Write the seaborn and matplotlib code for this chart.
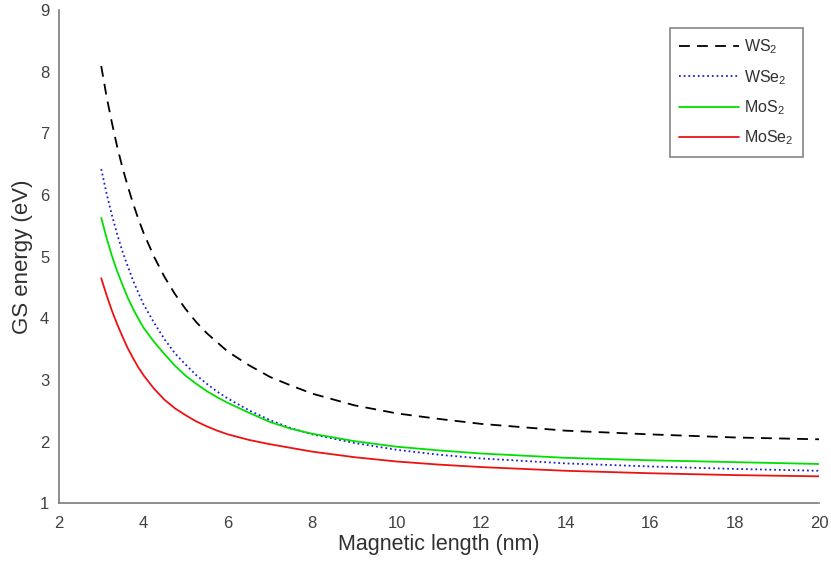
import pandas as pd
import matplotlib.pyplot as plt
import seaborn as sns

# magnetic length (nm) sample points
mag_len = [3, 3.125, 3.25, 3.375, 3.5, 3.625, 3.75, 3.875, 4, 4.25, 4.5, 4.75, 5, 5.25,
           5.5, 5.75, 6, 6.5, 7, 7.5, 8, 9, 10, 11, 12, 14, 16, 18, 20]

# ground-state energies (eV)
ws2 = [8.09, 7.60, 7.18, 6.79, 6.45, 6.15, 5.87, 5.62, 5.39, 5.00, 4.67, 4.39, 4.15, 3.94,
       3.76, 3.61, 3.46, 3.24, 3.05, 2.91, 2.78, 2.59, 2.46, 2.37, 2.29, 2.18, 2.12, 2.07, 2.04]
wse2 = [6.42, 6.03, 5.68, 5.37, 5.09, 4.85, 4.62, 4.42, 4.23, 3.93, 3.66, 3.43, 3.25, 3.08,
        2.94, 2.81, 2.70, 2.51, 2.35, 2.22, 2.12, 1.98, 1.87, 1.79, 1.73, 1.65, 1.60, 1.56, 1.53]
mos2 = [5.63, 5.31, 5.02, 4.77, 4.55, 4.34, 4.16, 4.00, 3.85, 3.62, 3.42, 3.23, 3.07, 2.94,
        2.82, 2.72, 2.63, 2.47, 2.32, 2.21, 2.13, 2.01, 1.92, 1.86, 1.81, 1.74, 1.70, 1.67, 1.64]
mose2 = [4.65, 4.38, 4.13, 3.91, 3.71, 3.52, 3.36, 3.21, 3.08, 2.86, 2.68, 2.54, 2.43, 2.33,
         2.25, 2.18, 2.12, 2.03, 1.96, 1.90, 1.84, 1.75, 1.68, 1.63, 1.59, 1.53, 1.49, 1.46, 1.44]

labels = ["WS$_2$", "WSe$_2$", "MoS$_2$", "MoSe$_2$"]
colors = ["black", "#1f1fd0", "#00e000", "#ee1111"]
styles = [(0, (6, 4)), (0, (1, 1.6)), "-", "-"]

sns.set_style("white")
plt.rcParams['font.family'] = ['Liberation Sans', 'DejaVu Sans']
plt.rcParams['mathtext.default'] = 'regular'

fig = plt.figure(figsize=(8.31, 5.70), dpi=100)
ax = fig.add_axes([0.071, 0.1167, 0.9146, 0.866])

for vals, lab, col, ls in zip([ws2, wse2, mos2, mose2], labels, colors, styles):
    df = pd.DataFrame({"x": mag_len, "y": vals})
    sns.lineplot(data=df, x="x", y="y", ax=ax, color=col, linestyle=ls,
                 linewidth=1.3, label=lab)

ax.set_xlim(2, 20)
ax.set_ylim(1, 9)
ax.set_xticks(range(2, 21, 2))
ax.set_yticks(range(1, 10))

axis_gray = "#7a7a7a"
for side in ["top", "right"]:
    ax.spines[side].set_visible(False)
for side in ["left", "bottom"]:
    ax.spines[side].set_color(axis_gray)
    ax.spines[side].set_linewidth(1.2)
ax.tick_params(direction="in", length=5, width=0.9, color="#333333",
               labelcolor="#404040", labelsize=12)
ax.tick_params(axis="x", pad=9)
ax.tick_params(axis="y", pad=7)

ax.set_xlabel("Magnetic length (nm)", fontsize=15.5, color="#303030", labelpad=2)
ax.set_ylabel("GS energy (eV)", fontsize=16, color="#303030", labelpad=5)

leg = ax.legend(loc="upper right", bbox_to_anchor=(0.979, 0.963), borderaxespad=0,
                fontsize=11.5, frameon=True, fancybox=False, handlelength=3.75,
                handletextpad=0.3, borderpad=0.6, labelspacing=0.72)
leg.get_frame().set_edgecolor("#666666")
leg.get_frame().set_linewidth(1.2)
for t in leg.get_texts():
    t.set_color("#303030")

fig.savefig("out.png", dpi=100)
